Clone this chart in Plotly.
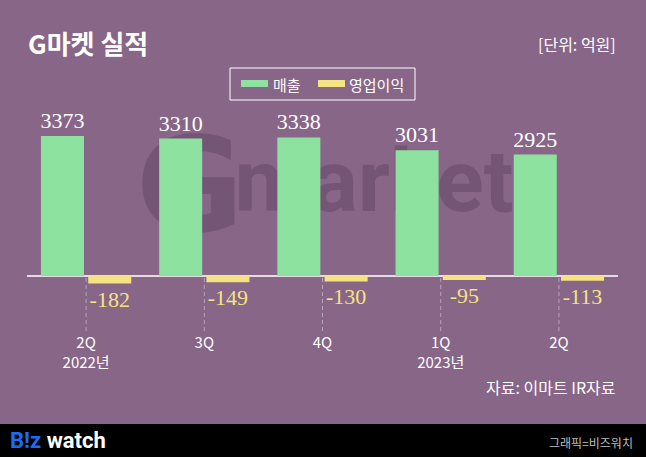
import plotly.graph_objects as go

# ---- data ----
periods = ["2Q 2022", "3Q 2022", "4Q 2022", "1Q 2023", "2Q 2023"]
tick_labels = ["2Q<br>2022년", "3Q", "4Q", "1Q<br>2023년", "2Q"]
sales = [3373, 3310, 3338, 3031, 2925]
op_profit = [-182, -149, -130, -95, -113]

BG = "#886688"
GREEN = "#8de29f"
YELLOW = "#f5e383"
WM = "#755575"
KR = "Noto Sans CJK KR"

W, H = 646, 457
PL, PR, PT, PB = 27, 618, 110, 330


def px(x):
    return (x - PL) / (PR - PL)


def py(y):
    return (PB - y) / (PB - PT)


fig = go.Figure()
fig.add_trace(go.Bar(
    x=periods, y=sales, name="매출", marker=dict(color=GREEN, line=dict(width=0)),
    text=[str(v) for v in sales], textposition="outside",
    outsidetextfont=dict(family="Liberation Serif", size=22, color="white"),
    cliponaxis=False, constraintext="none", textangle=0,
))
fig.add_trace(go.Bar(
    x=periods, y=op_profit, name="영업이익", marker=dict(color=YELLOW, line=dict(width=0)),
    text=[str(v) for v in op_profit], textposition="outside",
    outsidetextfont=dict(family="Liberation Serif", size=22, color=YELLOW),
    cliponaxis=False, constraintext="none", textangle=0,
))

shapes = []
# watermark (behind bars)
shapes.append(dict(type="rect", xref="paper", yref="paper", layer="below",
                   x0=px(132), x1=px(248), y0=py(232), y1=py(120),
                   line=dict(width=0), fillcolor="rgba(0,0,0,0)",
                   label=dict(text="G", textposition="middle center",
                              font=dict(family="DejaVu Sans", size=132, color=WM, weight="bold"))))
shapes.append(dict(type="rect", xref="paper", yref="paper", layer="below",
                   x0=px(232), x1=px(516), y0=py(230), y1=py(118),
                   line=dict(width=0), fillcolor="rgba(0,0,0,0)",
                   label=dict(text="market", textposition="middle center",
                              font=dict(family="Roboto", size=88, color=WM, weight="bold"))))
# dashed category lines
for i in range(len(periods)):
    shapes.append(dict(type="line", xref="x", yref="paper", x0=i, x1=i,
                       y0=py(278), y1=py(334),
                       line=dict(color="rgba(225,215,225,0.55)", width=1, dash="4px,3px")))
# legend box
shapes.append(dict(type="rect", xref="paper", yref="paper",
                   x0=px(230), x1=px(415), y0=py(100), y1=py(68),
                   line=dict(color="white", width=1), fillcolor="rgba(0,0,0,0)"))
shapes.append(dict(type="rect", xref="paper", yref="paper",
                   x0=px(241), x1=px(268), y0=py(87), y1=py(80),
                   line=dict(width=0), fillcolor=GREEN))
shapes.append(dict(type="rect", xref="paper", yref="paper",
                   x0=px(318), x1=px(345), y0=py(87), y1=py(80),
                   line=dict(width=0), fillcolor=YELLOW))
# footer bar
shapes.append(dict(type="rect", xref="paper", yref="paper",
                   x0=px(0), x1=px(646), y0=py(457), y1=py(424),
                   line=dict(width=0), fillcolor="black"))

ann = []


def add_text(text, x, y, size, color="white", xanchor="left", family=KR, weight="normal"):
    ann.append(dict(text=text, x=px(x), y=py(y), xref="paper", yref="paper",
                    xanchor=xanchor, yanchor="middle", showarrow=False,
                    font=dict(family=family, size=size, color=color, weight=weight)))


add_text("G마켓 실적", 26, 42, 26, weight="bold")
add_text("[단위: 억원]", 618, 44, 16, xanchor="right")
add_text("매출", 271, 84, 15)
add_text("영업이익", 347, 84, 15)
add_text("자료: 이마트 IR자료", 618, 387, 16, xanchor="right")
add_text("<span style='color:#1a6cf5'>B!z</span> watch", 8, 441, 22,
         family="Roboto", weight="bold")
add_text("그래픽=비즈워치", 635, 442, 12, color="#bdbdbd", xanchor="right")

zero_y = 276
scale = (zero_y - 136) / sales[0]
fig.update_layout(
    width=W, height=H,
    paper_bgcolor=BG, plot_bgcolor="rgba(0,0,0,0)",
    margin=dict(l=PL, r=W - PR, t=PT, b=H - PB, pad=0),
    barmode="group", bargap=0.2, bargroupgap=0.09,
    showlegend=False,
    shapes=shapes, annotations=ann,
    xaxis=dict(type="category", tickvals=periods, ticktext=tick_labels,
               tickfont=dict(family=KR, size=15, color="white"),
               showgrid=False, showline=False, ticks="", ticklabelstandoff=2),
    yaxis=dict(range=[-(PB - zero_y) / scale, (zero_y - PT) / scale],
               showticklabels=False, showgrid=False,
               zeroline=True, zerolinecolor="#e4dbe4", zerolinewidth=1.5),
)

fig.write_html("out.html", config={"displayModeBar": False},
               post_script="document.body.style.margin='0';")
